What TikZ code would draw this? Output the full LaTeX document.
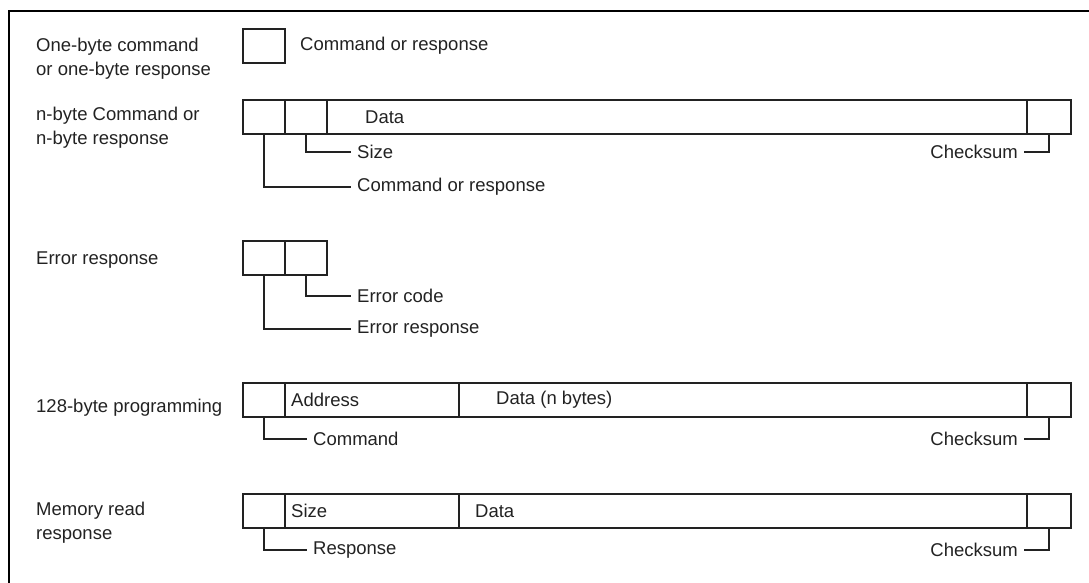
\documentclass[tikz,border=0pt]{standalone}
\usepackage{fontspec}
\setmainfont{Liberation Sans}
\usepackage{xcolor}
\definecolor{fmink}{HTML}{222222}
\usepackage{tikz}
\usetikzlibrary{positioning}

\begin{document}
\begin{tikzpicture}[x=1pt,y=-1pt]
\tikzset{
 f/.style={draw=fmink,line width=1.2pt,minimum height=34pt,inner sep=0pt,outer sep=0pt,anchor=north west},
 t/.style={text=fmink,inner xsep=6pt,inner ysep=0pt,anchor=west,align=left,font=\fontsize{18.5pt}{24pt}\selectfont},
 ln/.style={draw=fmink,line width=1.2pt}
}
\useasboundingbox (0,0) rectangle (1089,583);
\draw[line width=2.5pt] (9,583) -- (9,11) -- (1089,11);

% one-byte
\node[t] (l1) at (30,59) {One-byte command\\or one-byte response};
\node[f,minimum width=42pt] (r1b) at (243,29) {};
\node[t] (r1t) at (294,46) {Command or response};

% n-byte
\node[t] (l2) at (30,128) {n-byte Command or\\n-byte response};
\node[f,minimum width=42pt] (r2cmd) at (243,100) {};
\node[f,minimum width=42pt] (r2size) at (285,100) {};
\node[f,minimum width=700pt] (r2data) at (327,100) {};
\node[f,minimum width=44pt] (r2sum) at (1027,100) {};
\node[t] (r2dt) at (359,117) {Data};
\node[t] (r2sizel) at (351,152) {Size};
\node[t] (r2cmdl) at (351,187) {Command or response};
\node[t,anchor=east] (r2suml) at (1024,152) {Checksum};
\draw[ln] (r2size.south) |- (r2sizel.west);
\draw[ln] (r2cmd.south) |- (r2cmdl.west);
\draw[ln] (r2sum.south) |- (r2suml.east);

% error
\node[t] (l3) at (30,260) {Error response};
\node[f,minimum width=42pt] (r3err) at (243,241) {};
\node[f,minimum width=42pt] (r3code) at (285,241) {};
\node[t] (r3codel) at (351,296) {Error code};
\node[t] (r3errl) at (351,329) {Error response};
\draw[ln] (r3code.south) |- (r3codel.west);
\draw[ln] (r3err.south) |- (r3errl.west);

% 128-byte programming
\node[t] (l4) at (30,408) {128-byte programming};
\node[f,minimum width=42pt] (r4cmd) at (243,383) {};
\node[f,minimum width=174pt] (r4addr) at (285,383) {};
\node[f,minimum width=568pt] (r4data) at (459,383) {};
\node[f,minimum width=44pt] (r4sum) at (1027,383) {};
\node[t] (r4at) at (r4addr.west) {Address};
\node[t] (r4dt) at (490,400) {Data (n bytes)};
\node[t] (r4cmdl) at (307,439) {Command};
\node[t,anchor=east] (r4suml) at (1024,439) {Checksum};
\draw[ln] (r4cmd.south) |- (r4cmdl.west);
\draw[ln] (r4sum.south) |- (r4suml.east);

% memory read
\node[t] (l5) at (30,523) {Memory read\\response};
\node[f,minimum width=42pt] (r5rsp) at (243,494) {};
\node[f,minimum width=174pt] (r5size) at (285,494) {};
\node[f,minimum width=568pt] (r5data) at (459,494) {};
\node[f,minimum width=44pt] (r5sum) at (1027,494) {};
\node[t] (r5st) at (r5size.west) {Size};
\node[t] (r5dt) at (469,511) {Data};
\node[t] (r5rspl) at (307,550) {Response};
\node[t,anchor=east] (r5suml) at (1024,550) {Checksum};
\draw[ln] (r5rsp.south) |- (r5rspl.west);
\draw[ln] (r5sum.south) |- (r5suml.east);
\end{tikzpicture}
\end{document}
